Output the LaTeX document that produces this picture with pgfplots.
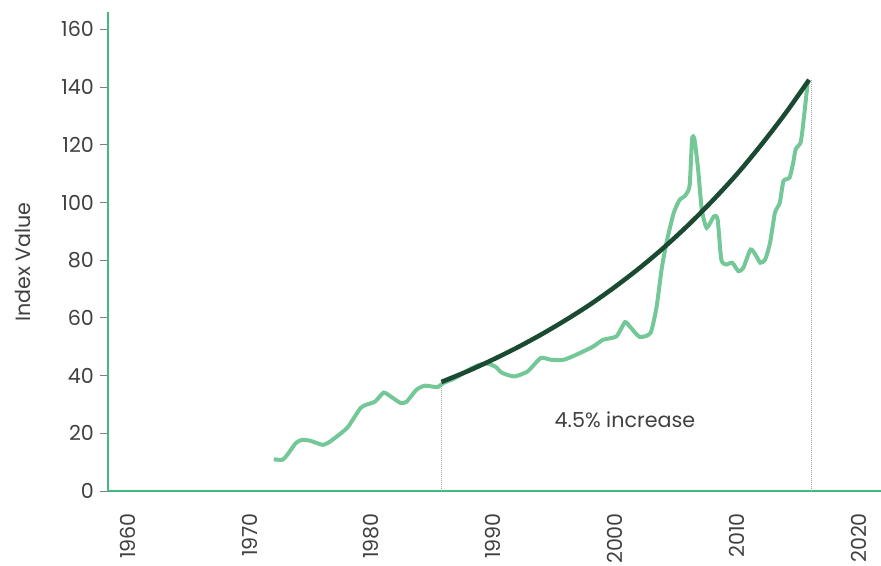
\documentclass[border=0pt]{standalone}
\usepackage{pgfplots}
\pgfplotsset{compat=1.18}
\usepackage{fontspec}
\setmainfont{Poppins}
\definecolor{axisgreen}{HTML}{45B97C}
\definecolor{lightline}{HTML}{74C898}
\definecolor{darkline}{HTML}{1B4A32}
\definecolor{ticktext}{HTML}{404040}
\begin{document}
\begin{tikzpicture}
\begin{axis}[
  scale only axis,
  width=579.75pt, height=359.25pt,
  xmin=1958.4, xmax=2021.8,
  ymin=0, ymax=166,
  axis x line*=bottom, axis y line*=left,
  axis line style={axisgreen, line width=1.6pt},
  xtick={1960,1970,1980,1990,2000,2010,2020},
  ytick={0,20,40,60,80,100,120,140,160},
  xtick style={draw=none},
  ytick style={draw=gray, line width=0.6pt},
  tick align=outside,
  major tick length=6pt,
  /pgf/number format/assume math mode=true,
  /pgf/number format/1000 sep={},
  tick label style={font=\fontsize{15.5}{18}\selectfont, text=ticktext},
  xticklabel style={rotate=90, anchor=east, xshift=-7pt},
  yticklabel style={xshift=-1pt},
  ylabel={Index Value},
  ylabel style={font=\fontsize{15.5}{18}\selectfont, text=ticktext, at={(axis description cs:-0.11,0.478)}, anchor=center, rotate=0},
  clip=false,
]
\addplot[gray!70, densely dotted, line width=0.5pt] coordinates {(1985.75,0) (1985.75,37.8)};
\addplot[gray!70, densely dotted, line width=0.5pt] coordinates {(2016.1,0) (2016.1,142.5)};
\addplot[lightline, line width=3pt, smooth, tension=0.35] coordinates {
(1972.0,11.0) (1972.7,10.8) (1973.1,12.5) (1973.8,16.6) (1974.3,17.7) (1975.0,17.4)
(1976.0,16.0) (1976.6,17.1) (1977.5,20.0) (1978.1,22.3) (1979.1,28.7) (1979.6,29.9)
(1980.3,31.0) (1981.0,34.1) (1981.4,33.3) (1982.4,30.5) (1982.9,31.0) (1983.7,35.1)
(1984.4,36.5) (1985.4,36.0) (1985.9,37.4) (1986.8,39.0) (1987.8,41.5) (1988.7,43.5)
(1989.5,44.2) (1990.2,43.0) (1990.7,41.0) (1991.7,39.7) (1992.8,41.4) (1993.9,46.1)
(1994.7,45.5) (1995.8,45.5) (1997.1,47.8) (1998.2,50.1) (1999.0,52.4) (2000.1,53.6)
(2000.8,58.5) (2001.2,57.0) (2002.0,53.4) (2002.9,54.8) (2003.4,64) (2003.8,76.7)
(2004.2,86) (2004.8,96.4) (2005.3,101) (2005.7,102.2) (2006.1,105.7) (2006.3,121.9)
(2006.5,121.9) (2006.8,111.5) (2007.1,97.6) (2007.5,91.2) (2008.1,95.2) (2008.4,94.1)
(2008.7,80.2) (2009.1,78.5) (2009.6,79.1) (2010.1,76.2) (2010.5,77.3) (2011.1,83.7)
(2011.5,81.9) (2011.9,79.1) (2012.3,80.2) (2012.7,86) (2013.1,96.4) (2013.5,99.9)
(2013.8,107.4) (2014.3,108.6) (2014.6,113.8) (2014.8,118.4) (2015.2,120.7) (2015.4,126.5)
(2015.8,142)
};
\addplot[darkline, line width=3.4pt, smooth] coordinates {
(1985.75,37.8) (1988,41.7) (1990,45.6) (1992,49.8) (1994,54.4) (1996,59.4)
(1998,64.8) (2000,70.8) (2002,77.3) (2004,84.4) (2006,92.2) (2008,100.7)
(2010,109.9) (2012,120.1) (2014,131.1) (2015.9,142.5)
};
\node[font=\fontsize{15.5}{18}\selectfont, text=ticktext] at (axis cs:2000.8,24.7) {4.5\% increase};
\end{axis}
\pgfresetboundingbox
\path[use as bounding box] ([shift={(-81pt,-55.5pt)}]current axis.south west) rectangle ([shift={(579.75pt,368.25pt)}]current axis.south west);
\end{tikzpicture}
\end{document}
